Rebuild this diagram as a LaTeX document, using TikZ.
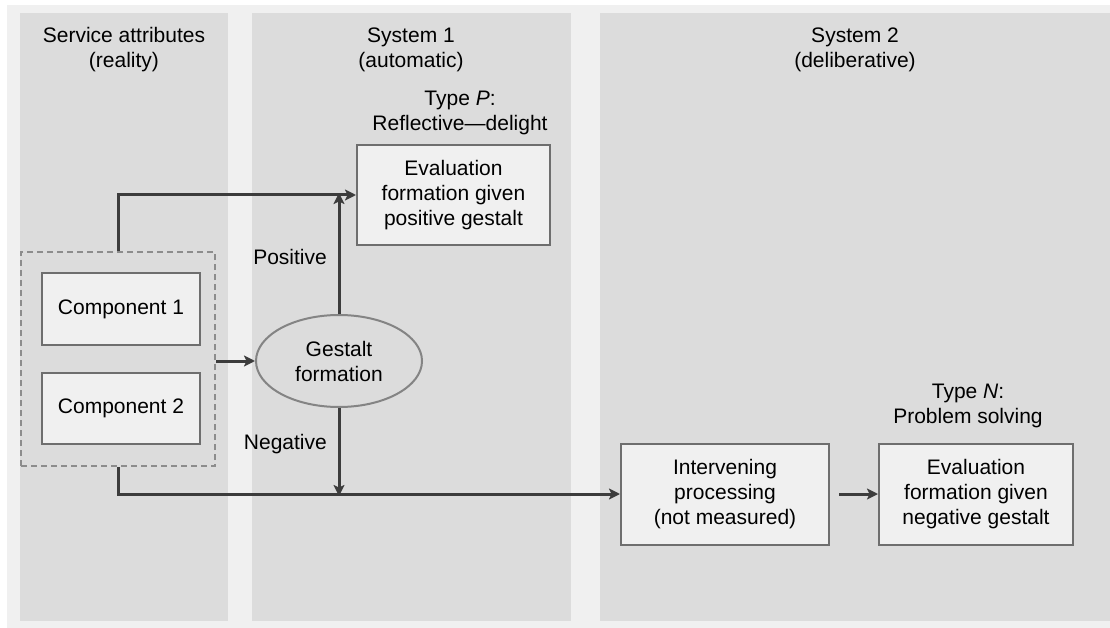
\documentclass[tikz,border=0pt]{standalone}
\usepackage{fontspec}
\setmainfont{Liberation Sans}
\usepackage{xcolor}
\definecolor{outerbg}{HTML}{F0F0F0}
\definecolor{panelbg}{HTML}{DCDCDC}
\definecolor{boxfill}{HTML}{F0F0F0}
\definecolor{boxline}{HTML}{6E6E6E}
\definecolor{dashline}{HTML}{8C8C8C}
\definecolor{arline}{HTML}{3C3C3C}
\usetikzlibrary{arrows.meta,positioning,shapes.geometric,calc}
\tikzset{
  nb/.style={align=center, inner sep=0pt, font=\fontsize{21}{25}\selectfont},
  head/.style={nb},
  nbox/.style={nb, draw=boxline, fill=boxfill, line width=2pt},
  nell/.style={nb, ellipse, draw=boxline!85, fill=panelbg, line width=2pt},
  ndash/.style={draw=dashline, dash pattern=on 6pt off 4pt, line width=2pt},
  lbl/.style={nb, anchor=east},
  ar/.style={-{Stealth[length=11pt, width=11pt, inset=2.5pt]}, draw=arline, line width=3pt},
  panel/.style={fill=panelbg, draw=none},
}

\begin{document}
\begin{tikzpicture}[x=1pt, y=-1pt]
  \useasboundingbox (0,0) rectangle (1110,628);
  % backgrounds
  \fill[outerbg] (7,5) rectangle (1110,628);
  \fill[panel] (20,13) rectangle (228,621);
  \fill[panel] (252,13) rectangle (571,621);
  \fill[panel] (600,13) rectangle (1110,621);

  % column heads
  \node[head] (h1) at (124,50) {Service attributes\\(reality)};
  \node[head] (h2) at (411,50) {System 1\\(automatic)};
  \node[head] (h3) at (855,50) {System 2\\(deliberative)};

  % service attributes
  \node[ndash, minimum width=194pt, minimum height=214pt] (attr) at (118,359) {};
  \node[nbox, minimum width=158pt, minimum height=72pt] (comp1) at (121,309) {Component 1};
  \node[nbox, minimum width=158pt, minimum height=71pt] (comp2) at (121,408.5) {Component 2};

  % system 1
  \node[nell, minimum width=166pt, minimum height=92pt] (gest) at (339,361) {Gestalt\\formation};
  \node[nbox, minimum width=193pt, minimum height=100pt] (evalp) at (453.5,195) {Evaluation\\formation given\\positive gestalt};
  \node[nb] (typep) at (460,113) {Type \textit{P}:\\Reflective---delight};
  \node[lbl] (pos) at (327,257) {Positive};
  \node[lbl] (neg) at (327,444) {Negative};

  % system 2
  \node[nbox, minimum width=208pt, minimum height=101pt] (inter) at (725,494) {Intervening\\processing\\(not measured)};
  \node[nbox, minimum width=194pt, minimum height=101pt] (evaln) at (976,494) {Evaluation\\formation given\\negative gestalt};
  \node[nb] (typen) at (968,406) {Type \textit{N}:\\Problem solving};

  % connectors
  \draw[ar] (attr.east |- gest.west) -- (gest.west);
  \draw[ar] (attr.north) |- (evalp.west);
  \draw[ar] (gest.north) -- ([yshift=2pt]gest.north |- evalp.west);
  \draw[ar] (attr.south) |- (inter.west);
  \draw[ar] (gest.south) -- ([yshift=-2pt]gest.south |- inter.west);
  \draw[ar] ([xshift=9pt]inter.east) -- (evaln.west);
\end{tikzpicture}
\end{document}
